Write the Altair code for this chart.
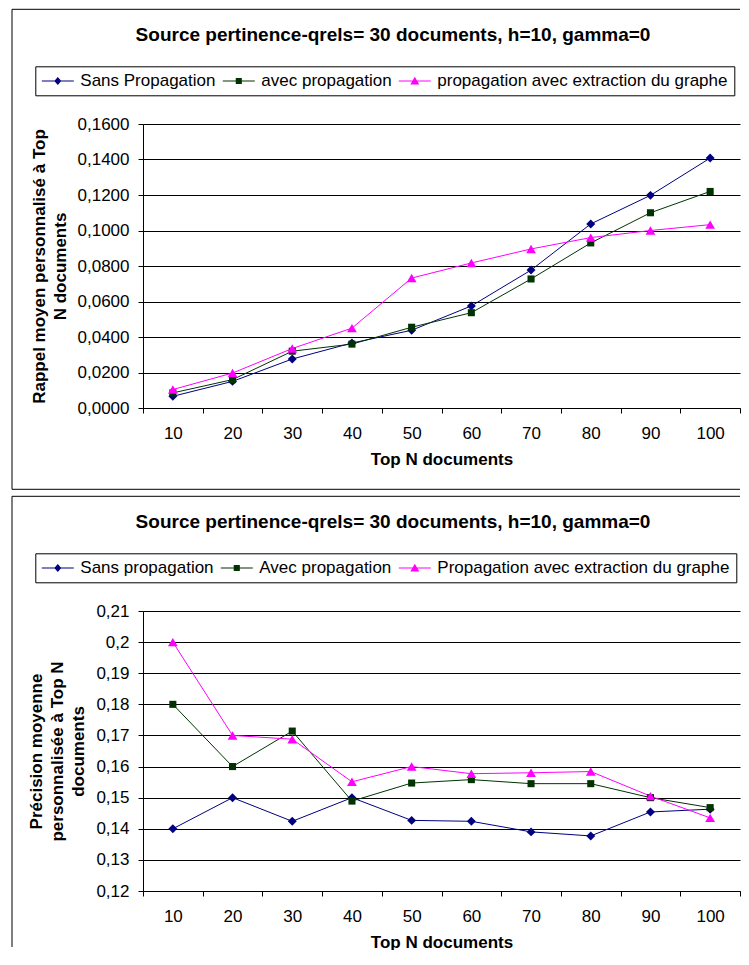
import altair as alt
import pandas as pd

# ---------------- data ----------------
top_n = [10, 20, 30, 40, 50, 60, 70, 80, 90, 100]

top_title = "Source pertinence-qrels= 30 documents, h=10, gamma=0"
top_series = ["Sans Propagation", "avec propagation", "propagation avec extraction du graphe"]
top_sans = [0.0066, 0.0150, 0.0276, 0.0366, 0.0438, 0.0575, 0.0777, 0.1037, 0.1198, 0.1408]
top_avec = [0.0085, 0.0160, 0.0320, 0.0360, 0.0455, 0.0537, 0.0727, 0.0930, 0.1100, 0.1220]
top_extr = [0.0104, 0.0197, 0.0335, 0.0450, 0.0732, 0.0817, 0.0896, 0.0960, 0.1000, 0.1033]
top_yticks = [0.0, 0.02, 0.04, 0.06, 0.08, 0.10, 0.12, 0.14, 0.16]
top_ytitle = ["Rappel moyen personnalisé à Top", "N documents"]

bot_title = "Source pertinence-qrels= 30 documents, h=10, gamma=0"
bot_series = ["Sans propagation", "Avec propagation", "Propagation avec extraction du graphe"]
bot_sans = [0.1400, 0.1500, 0.1424, 0.1500, 0.1427, 0.1424, 0.1390, 0.1377, 0.1454, 0.1463]
bot_avec = [0.1800, 0.1600, 0.1714, 0.1489, 0.1547, 0.1558, 0.1545, 0.1545, 0.1500, 0.1468]
bot_extr = [0.2000, 0.1700, 0.1688, 0.1551, 0.1600, 0.1577, 0.1580, 0.1584, 0.1505, 0.1435]
bot_yticks = [0.12, 0.13, 0.14, 0.15, 0.16, 0.17, 0.18, 0.19, 0.20, 0.21]
bot_ytitle = ["Précision moyenne", "personnalisée à Top N", "documents"]

x_title = "Top N documents"

# ---------------- style ----------------
COLORS = ["#000080", "#003300", "#FF00FF"]
SHAPES = ["diamond", "square", "triangle-up"]
SIZES = [80, 50, 95]
SEG = "M-2,-0.07H2V0.07H-2Z"
LEG_PATHS = [
    SEG + "M-0.44,0L0,-0.5L0.44,0L0,0.5Z",
    SEG + "M-0.38,-0.38H0.38V0.38H-0.38Z",
    SEG + "M-0.56,0.42L0,-0.55L0.56,0.42Z",
]
FONT = "Liberation Sans"
W = 597


def long_df(names, cols):
    rows = []
    for name, vals in zip(names, cols):
        for n, v in zip(top_n, vals):
            rows.append({"N": n, "serie": name, "v": v})
    return pd.DataFrame(rows)


def js_list(items):
    return "[" + ",".join("'" + s + "'" for s in items) + "]"


def panel(df, names, ydom, yticks, label_expr, ytitle, title, H, box_top, box_bottom, draw_bottom):
    idx = "indexof(" + js_list(names) + ", datum.value)"
    shape_expr = js_list(LEG_PATHS) + "[" + idx + "]"
    col_expr = js_list(COLORS) + "[" + idx + "]"
    legend = alt.Legend(
        orient="none", legendX=-107.7, legendY=-57.7, direction="horizontal", columns=3,
        title=None, labelFont=FONT, labelFontSize=17, labelColor="black", labelLimit=600,
        symbolSize=256, symbolOffset=8, labelOffset=14, columnPadding=6, padding=6,
        strokeColor="black", fillColor="white", symbolStrokeWidth=0, symbolOpacity=1,
        symbolType={"expr": shape_expr},
        symbolFillColor={"expr": col_expr},
        symbolStrokeColor={"expr": col_expr},
    )
    x = alt.X("N:O", sort=top_n, bandPosition=0.5,
              scale=alt.Scale(type="band", paddingInner=0, paddingOuter=0),
              axis=alt.Axis(title=x_title, labelAngle=0, tickBand="extent", grid=False,
                            labelPadding=12, titlePadding=10))
    y = alt.Y("v:Q", scale=alt.Scale(domain=ydom, nice=False, zero=False),
              axis=alt.Axis(values=yticks, labelExpr=label_expr, title=ytitle,
                            grid=True, labelPadding=9, titlePadding=8))
    color = alt.Color("serie:N", sort=names, scale=alt.Scale(domain=names, range=COLORS), legend=legend)
    lines = alt.Chart(df).mark_line(strokeWidth=1).encode(x=x, y=y, color=color)
    layers_pts = []
    for name, shp, sz, col in zip(names, SHAPES, SIZES, COLORS):
        layers_pts.append(
            alt.Chart(df).transform_filter(alt.datum.serie == name)
            .mark_point(filled=True, opacity=1, shape=shp, size=sz, color=col)
            .encode(x=x, y=y)
        )
    one = pd.DataFrame({"t": [title]})
    ttl = alt.Chart(one).mark_text(font=FONT, fontSize=19, fontWeight="bold", align="center",
                                   baseline="alphabetic", color="black").encode(
        text="t:N", x=alt.value(250), y=alt.value(-83))
    left = alt.Chart(one).mark_rule(color="black", strokeWidth=1).encode(
        x=alt.value(-131), y=alt.value(box_top), y2=alt.value(box_bottom))
    topl = alt.Chart(one).mark_rule(color="black", strokeWidth=1).encode(
        x=alt.value(-131), x2=alt.value(W), y=alt.value(box_top))
    layers = [left, topl, lines] + layers_pts + [ttl]
    if draw_bottom:
        botl = alt.Chart(one).mark_rule(color="black", strokeWidth=1).encode(
            x=alt.value(-131), x2=alt.value(W), y=alt.value(box_bottom))
        layers.insert(2, botl)
    return alt.layer(*layers).properties(width=W, height=H)


top_df = long_df(top_series, [top_sans, top_avec, top_extr])
bot_df = long_df(bot_series, [bot_sans, bot_avec, bot_extr])

top = panel(top_df, top_series, [0, 0.16], top_yticks,
            "replace(format(datum.value, '.4f'), '.', ',')",
            top_ytitle, top_title, 284, -114.7, 365.3, True)
bot = panel(bot_df, bot_series, [0.12, 0.21], bot_yticks,
            "replace(format(datum.value, '~g'), '.', ',')",
            bot_ytitle, bot_title, 280, -114.7, 336, False)

chart = alt.vconcat(top, bot, spacing=5).resolve_scale(
    color="independent"
).resolve_legend(color="independent").properties(
    padding={"left": 3, "top": 0, "right": 0, "bottom": 0}
).configure_view(stroke=None).configure_axis(
    labelFont=FONT, labelFontSize=17, labelColor="black",
    titleFont=FONT, titleFontSize=17, titleFontWeight="bold", titleColor="black",
    titleLineHeight=21,
    domainColor="black", tickColor="black", tickSize=5, gridColor="black", gridWidth=1,
)

chart.save("out.html", embed_options={"renderer": "svg", "actions": False})
